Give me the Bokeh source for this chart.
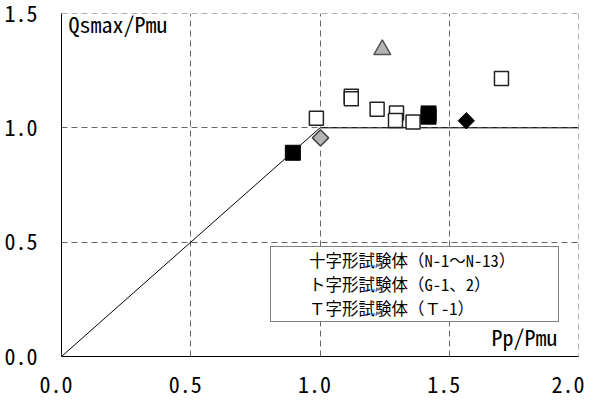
import math
from bokeh.plotting import figure
from bokeh.models import (Range1d, FixedTicker, Legend, LegendItem, Label, Span)
from bokeh.embed import file_html
from bokeh.resources import INLINE

# ---- data ----
open_sq_x = [0.986, 1.121, 1.121, 1.221, 1.296, 1.292, 1.360, 1.702]
open_sq_y = [1.042, 1.138, 1.127, 1.081, 1.065, 1.032, 1.026, 1.216]
black_sq_x = [0.895, 1.420, 1.420]
black_sq_y = [0.891, 1.063, 1.049]
grey_dia_x = [1.002]
grey_dia_y = [0.956]
black_dia_x = [1.566]
black_dia_y = [1.031]
tri_x = [1.241]
tri_y = [1.342]
limit_x = [0.0, 1.0, 2.0]
limit_y = [0.0, 1.0, 1.0]

x_ticks = [0, 0.5, 1, 1.5, 2]
x_tick_labels = ["0.0", "0.5", "1.0", "1.5", "2.0"]
y_ticks = [0, 0.5, 1, 1.5]
y_tick_labels = ["0.0", "0.5", "1.0", "1.5"]
x_title = "Pp/Pmu"
y_title = "Qsmax/Pmu"
legend_labels = ["十字形試験体（N-1～N-13）", "ト字形試験体（G-1、2）", "Ｔ字形試験体（Ｔ-1）"]

FONT = "Noto Sans Mono CJK JP"
GRID = "#666666"
DASH = "6 4"

p = figure(width=595, height=402, output_backend="svg", toolbar_location=None,
           x_range=Range1d(0, 2), y_range=Range1d(0, 1.5),
           min_border_left=61, min_border_right=17, min_border_top=13, min_border_bottom=46)
p.outline_line_color = None
p.background_fill_color = "white"
p.border_fill_color = "white"

for ax in (p.xaxis[0], p.yaxis[0]):
    ax.axis_line_color = "black"
    ax.axis_line_width = 1
    ax.major_tick_line_color = None
    ax.minor_tick_line_color = None
    ax.major_label_text_font = FONT
    ax.major_label_text_font_size = "22px"
    ax.major_label_text_color = "black"

p.xaxis.ticker = FixedTicker(ticks=x_ticks)
p.xaxis.major_label_overrides = {t: lab + "\u00a0" for t, lab in zip(x_ticks, x_tick_labels)}
p.xaxis.major_label_standoff = 4
p.yaxis.ticker = FixedTicker(ticks=y_ticks)
p.yaxis.major_label_overrides = {t: lab for t, lab in zip(y_ticks, y_tick_labels)}
p.yaxis.major_label_standoff = 18

p.xgrid.ticker = FixedTicker(ticks=x_ticks[1:-1])
p.ygrid.ticker = FixedTicker(ticks=y_ticks[1:-1])
for g in (p.xgrid[0], p.ygrid[0]):
    g.grid_line_color = GRID
    g.grid_line_dash = DASH
    g.grid_line_width = 1
p.add_layout(Span(location=x_ticks[-1], dimension="height", line_color=GRID,
                  line_dash=DASH, line_width=1))
p.add_layout(Span(location=y_ticks[-1], dimension="width", line_color=GRID,
                  line_dash=DASH, line_width=1))

# limit line
p.line(limit_x, limit_y, line_color="black", line_width=1)

# data markers
p.scatter(open_sq_x, open_sq_y, marker="square", size=14, fill_color="white",
          line_color="#222222", line_width=1.5)
p.scatter(black_sq_x, black_sq_y, marker="square", size=15, fill_color="black",
          line_color="black", line_width=1)
p.scatter(grey_dia_x, grey_dia_y, marker="square", angle=math.pi / 4, size=11.5,
          fill_color="#b4b4b4", line_color="#444444", line_width=1.5)
p.scatter(black_dia_x, black_dia_y, marker="square", angle=math.pi / 4, size=11.5,
          fill_color="black", line_color="black", line_width=1)
p.scatter(tri_x, tri_y, marker="triangle", size=17, fill_color="#b4b4b4",
          line_color="#555555", line_width=1.5)

# legend-only glyphs
lg_sq = p.scatter([], [], marker="square", fill_color="white", line_color="black", line_width=1)
lg_dia = p.scatter([], [], marker="diamond", fill_color="#b4b4b4", line_color="#444444", line_width=1)
lg_tri = p.scatter([], [], marker="triangle", fill_color="#b4b4b4", line_color="#444444", line_width=1)

legend = Legend(items=[LegendItem(label=legend_labels[0], renderers=[lg_sq]),
                       LegendItem(label=legend_labels[1], renderers=[lg_dia]),
                       LegendItem(label=legend_labels[2], renderers=[lg_tri])],
                location=(209, 34))
legend.label_text_font = FONT
legend.label_text_font_size = "16.5px"
legend.label_text_color = "black"
legend.padding = 1
legend.spacing = 0
legend.margin = 0
legend.glyph_height = 23
legend.glyph_width = 36
legend.label_standoff = 1
legend.label_height = 21
legend.label_width = 248
legend.border_line_color = "black"
legend.border_line_width = 1
legend.background_fill_color = "white"
legend.background_fill_alpha = 1
p.add_layout(legend, "center")

# axis titles inside the frame
p.add_layout(Label(x=0.027, y=1.4565, text=y_title, text_font=FONT, text_font_size="22px",
                   text_align="left", text_baseline="alphabetic", text_color="black"))
p.add_layout(Label(x=1.919, y=0.0875, text=x_title, text_font=FONT, text_font_size="22px",
                   text_align="right", text_baseline="alphabetic", text_color="black"))

open("out.html", "w").write(file_html(p, INLINE))
